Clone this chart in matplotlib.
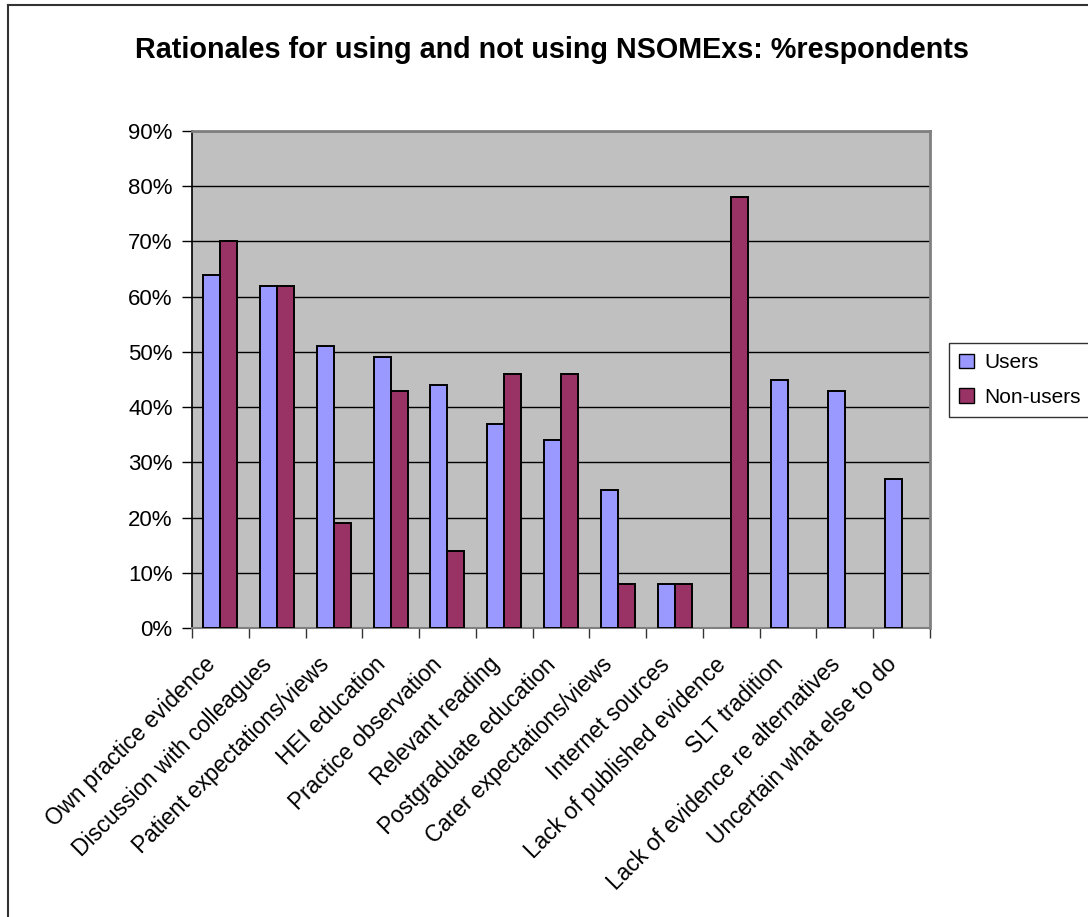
import matplotlib
matplotlib.use("Agg")
import matplotlib.pyplot as plt
import numpy as np
from matplotlib.lines import Line2D
from matplotlib.ticker import FuncFormatter, FixedLocator

categories = [
    "Own practice evidence",
    "Discussion with colleagues",
    "Patient expectations/views",
    "HEI education",
    "Practice observation",
    "Relevant reading",
    "Postgraduate education",
    "Carer expectations/views",
    "Internet sources",
    "Lack of published evidence",
    "SLT tradition",
    "Lack of evidence re alternatives",
    "Uncertain what else to do",
]
users = [64, 62, 51, 49, 44, 37, 34, 25, 8, 0, 45, 43, 27]
non_users = [70, 62, 19, 43, 14, 46, 46, 8, 8, 78, 0, 0, 0]
series_names = ["Users", "Non-users"]
title = "Rationales for using and not using NSOMExs: %respondents"
yticks = [0, 10, 20, 30, 40, 50, 60, 70, 80, 90]

plt.rcParams['font.family'] = ['Liberation Sans', 'DejaVu Sans']

W, H = 1088, 917
fig = plt.figure(figsize=(W / 100, H / 100), dpi=100)
ax = fig.add_axes([192 / W, 1 - 628 / H, (930 - 192) / W, (628 - 131) / H])

n = len(categories)
x = np.arange(n)
bw = 0.3
c_users = "#9999FF"
c_non = "#993366"
b1 = ax.bar(x - bw / 2, users, bw, color=c_users, edgecolor="black", linewidth=1.4, label=series_names[0], zorder=3)
b2 = ax.bar(x + bw / 2, non_users, bw, color=c_non, edgecolor="black", linewidth=1.4, label=series_names[1], zorder=3)
for p in list(b1) + list(b2):
    if p.get_height() == 0:
        p.set_visible(False)

ax.set_facecolor("#C0C0C0")
ax.set_xlim(-0.5, n - 0.5)
ax.set_ylim(0, 90)
ax.yaxis.set_major_locator(FixedLocator(yticks))
ax.yaxis.set_major_formatter(FuncFormatter(lambda v, p: f"{int(round(v))}%"))
ax.grid(axis="y", color="black", linewidth=1.0, zorder=1)
ax.set_axisbelow(True)
ax.tick_params(axis="y", labelsize=16, length=7, width=1, pad=7, direction="out")

ax.set_xticks(np.arange(n + 1) - 0.5)
ax.set_xticklabels([])
ax.tick_params(axis="x", length=7, width=1, direction="out", color="#333333")

for i, lab in enumerate(categories):
    ax.annotate(lab, xy=(x[i], 0), xycoords="data", xytext=(-12, -18), textcoords="offset points",
                rotation=45, ha="right", va="top", rotation_mode="anchor", fontsize=16.3)

for side in ["top", "right"]:
    ax.spines[side].set_color("#808080")
    ax.spines[side].set_linewidth(2)
ax.spines["left"].set_color("black")
ax.spines["left"].set_linewidth(1.2)
ax.spines["bottom"].set_color("#808080")
ax.spines["bottom"].set_linewidth(1.5)

fig.text(552 / W, 1 - 50 / H, title, ha="center", va="center", fontsize=20.7, fontweight="bold")

leg = fig.legend(loc="upper left", bbox_to_anchor=(949 / W, 1 - 343 / H), borderaxespad=0,
                 fontsize=15, frameon=True, fancybox=False, edgecolor="black",
                 handlelength=0.7, handleheight=0.7, handletextpad=0.5, labelspacing=0.75,
                 borderpad=0.5)
leg.get_frame().set_linewidth(1.0)
for h in leg.legend_handles:
    h.set_linewidth(1.0)

# chart area border
fig.add_artist(Line2D([8 / W, 1.0], [1 - 5 / H, 1 - 5 / H], transform=fig.transFigure, color="#333333", linewidth=1.5))
fig.add_artist(Line2D([8 / W, 8 / W], [1 - 5 / H, 0.0], transform=fig.transFigure, color="#333333", linewidth=1.5))

fig.savefig("out.png", dpi=100)
